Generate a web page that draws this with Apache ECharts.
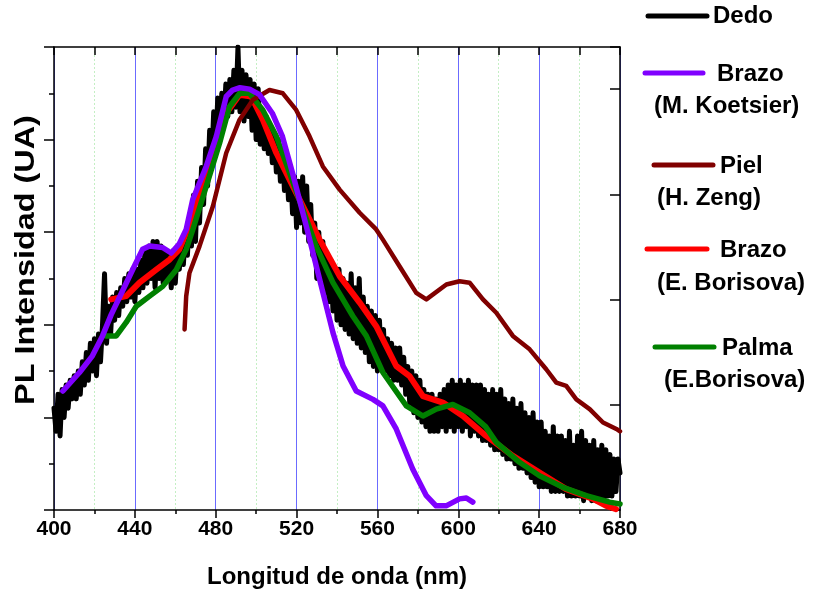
<!DOCTYPE html>
<html>
<head>
<meta charset="utf-8">
<script src="https://cdn.jsdelivr.net/npm/echarts@6/dist/echarts.min.js"></script>
<style>
html,body{margin:0;padding:0;background:#fff;}
#chart{width:813px;height:594px;}
</style>
</head>
<body>
<div id="chart"></div>
<script>
// ---------- DATA ----------
const xTicks = [400, 440, 480, 520, 560, 600, 640, 680];
const seriesNames = ['Dedo', 'Brazo (M. Koetsier)', 'Piel (H. Zeng)', 'Brazo (E. Borisova)', 'Palma (E.Borisova)'];
const xTitle = 'Longitud de onda (nm)';
const yTitle = 'PL Intensidad (UA)';

// Dedo: noisy measured spectrum, 1 nm steps from 400 nm
const dedoStart = 400;
const dedoValues = [
  22,17,25,16,26,20,27,22,28,24,
  29,24,30,25,32,27,34,28,36,30,
  37,29,38,32,40,51,36,44,38,46,
  41,47,42,48,44,50,45,51,46,52,
  45,52,47,54,48,56,49,57,50,58,
  48,58,50,57,49,56,50,55,48,56,
  49,56,52,58,53,60,55,63,57,68,
  58,71,62,74,66,78,70,82,75,86,
  78,89,80,90,83,92,85,93,86,95,
  87,100,86,95,84,94,85,93,82,92,
  80,91,79,86,78,85,77,83,75,81,
  73,80,71,78,69,76,67,74,64,72,
  61,71,62,72,60,70,58,66,55,62,
  50,60,49,58,47,55,45,54,43,52,
  41,52,40,50,39,49,38,51,37,48,
  36,50,35,46,34,44,32,43,31,42,
  30,41,31,39,30,37,29,36,28,35,
  28,35,27,33,25,31,23,30,21,29,
  20,28,19,26,18,25,17,25,17,24,
  17,25,18,26,17,27,18,28,17,27,
  18,28,17,27,18,28,16,27,17,27,
  16,27,15,26,15,25,14,26,13,25,
  13,26,12,24,11,23,11,24,10,22,
  9,23,9,21,8,20,7,21,6,19,
  5,19,5,17,5,16,4,18,4,16,
  4,16,4,15,3,17,3,14,3,16,
  3,17,2,15,3,14,2,15,2,13,
  2,14,2,13,3,12,3,11,4,11,
  8
];

const koetsier = [
  [404.4,25.7],[412.6,29.7],[419,33.3],[424,37.6],[428.3,42.2],[433,46.5],[439,52],[443.8,56.3],
  [447.3,57],[453.7,56.7],[458,55.5],[462,57.5],[465.4,60.6],[468.6,67],[475.3,74.2],[480.3,80.7],
  [485.2,89.3],[488.4,90.7],[492,91.2],[496.7,90.9],[501.7,89.7],[508,85.7],[513,80.7],[518,72.8],
  [524.8,61.3],[531.4,49.8],[538,38.3],[543,31.1],[549.5,25.7],[557.8,23.9],[562.7,22.5],[569.3,17.5],
  [577.5,8.8],[584.2,3.1],[589,0.9],[594,0.9],[600.6,2.4],[604,2.6],[607.2,1.7]
];

const zeng = [
  [464.6,39],[465.4,46.2],[467,51.2],[472,57],[478.6,65.6],[485.2,77.1],[491.8,84.3],[498.4,88.6],
  [506.6,90.7],[513.2,90],[519.8,86.4],[526.4,80.7],[533,74.2],[541.3,69.2],[551.2,64.2],[559.4,60.6],
  [562.7,58.4],[571,52.6],[579.2,46.9],[584.2,45.5],[594.1,48.7],[600.6,49.4],[605.6,49.1],[612.2,45.5],
  [618.8,42.6],[627,37.6],[635.3,34.7],[643.5,30.4],[648.5,27.5],[653.4,26.8],[658.4,23.9],[665,21.8],
  [671.6,18.9],[678.2,17.5],[680,17]
];

const borisovaBrazo = [
  [428.3,45.5],[435.7,46.2],[442.3,49.1],[450.6,51.9],[457.2,54.1],[462,56.3],[467,61.5],[473.6,71.3],
  [478.6,77.8],[485.2,85.7],[491.8,89.7],[497.6,89.3],[503.3,84.3],[510,77.1],[518.2,69.9],[524.8,64.2],
  [531.4,58.4],[541.3,50.5],[551.2,44.8],[559.4,39.7],[569.3,31.1],[575.9,28.9],[582.5,24.6],[592.4,23.2],
  [602.3,20.3],[613.8,16],[627,11.7],[640.2,8.1],[653.4,4.5],[666.6,2.4],[673.2,0.9],[678,0.2]
];

const borisovaPalma = [
  [425.8,37.6],[430.8,37.6],[435.7,40.5],[440.7,44],[447.3,46.2],[453.8,48.3],[460.5,51.9],[465.4,56.3],
  [468.7,60.6],[475.3,69.9],[481.9,79.2],[486.8,87.1],[491.8,90],[496.7,90],[503.3,86.4],[510,80.7],
  [516.5,72.8],[523.1,64.9],[529.7,57],[538,49.1],[547.8,41.9],[554.5,37.6],[562.7,29.7],[574.3,22.5],
  [582.5,20.3],[589.1,21.8],[597.3,22.8],[605.6,21],[613.5,18],[618.8,14.6],[630.3,10.3],[640.2,7.4],
  [651.8,4.9],[663.3,3.1],[674.9,1.7],[680,1.3]
];

// ---------- CHART ----------
const colors = ['#000000', '#8000ff', '#800000', '#ff0000', '#008000'];
const dedo = dedoValues.map((v, i) => [dedoStart + i, v]);

const chart = echarts.init(document.getElementById('chart'), null, {renderer: 'canvas'});
const fontFam = 'Liberation Sans, Arial, sans-serif';

function mkLine(name, data, color, width, z) {
  return {
    name: name, type: 'line', data: data, showSymbol: false, symbol: 'none',
    lineStyle: {color: color, width: width, join: 'round', cap: 'round'},
    itemStyle: {color: color}, z: z, animation: false, clip: true
  };
}

// legend drawn as graphic (multi-line entries)
const legendSpec = [
  {line: [648, 707, 16], t1: ['Dedo', 713, 16], t2: null},
  {line: [645, 703, 73], t1: ['Brazo', 717, 74], t2: ['(M. Koetsier)', 654, 106]},
  {line: [654, 713, 165], t1: ['Piel', 720, 166], t2: ['(H. Zeng)', 657, 198]},
  {line: [647, 707, 249], t1: ['Brazo', 720, 250], t2: ['(E. Borisova)', 657, 283]},
  {line: [655, 714, 347], t1: ['Palma', 722, 348], t2: ['(E.Borisova)', 664, 380]}
];
const graphics = [];
legendSpec.forEach((s, i) => {
  graphics.push({type: 'line', shape: {x1: s.line[0], y1: s.line[2], x2: s.line[1], y2: s.line[2]},
    style: {stroke: colors[i], lineWidth: 5, lineCap: 'round'}});
  graphics.push({type: 'text', x: s.t1[1], y: s.t1[2],
    style: {text: s.t1[0], font: 'bold 24px ' + fontFam, fill: '#000', verticalAlign: 'middle'}});
  if (s.t2) graphics.push({type: 'text', x: s.t2[1], y: s.t2[2],
    style: {text: s.t2[0], font: 'bold 24px ' + fontFam, fill: '#000', verticalAlign: 'middle'}});
});
// y-axis title (slightly stretched along its length like the original)
graphics.push({type: 'text', x: 27, y: 260, rotation: Math.PI / 2, scaleX: 1.2, scaleY: 1,
  style: {text: yTitle, font: 'bold 27px ' + fontFam, fill: '#000', align: 'center', verticalAlign: 'middle'}});

const option = {
  animation: false,
  backgroundColor: '#fff',
  grid: {left: 54, right: 193, top: 47, bottom: 83, containLabel: false},
  xAxis: [
    {
      type: 'value', position: 'bottom', min: xTicks[0], max: xTicks[xTicks.length - 1], interval: 40,
      axisLine: {show: true, onZero: false, lineStyle: {color: '#000', width: 1.5}},
      axisTick: {show: true, inside: false, length: 8, lineStyle: {color: '#000', width: 1.5}},
      minorTick: {show: true, splitNumber: 2, length: 4, lineStyle: {color: '#000', width: 1.5}},
      axisLabel: {show: true, color: '#000', fontWeight: 'bold', fontSize: 21, fontFamily: fontFam, margin: 9},
      splitLine: {show: true, lineStyle: {color: '#6b6bff', width: 1}},
      minorSplitLine: {show: true, lineStyle: {color: '#c4efc4', width: 1, type: [2, 2]}},
      name: xTitle, nameLocation: 'middle', nameGap: 55,
      nameTextStyle: {color: '#000', fontWeight: 'bold', fontSize: 24, fontFamily: fontFam}
    },
    {
      type: 'value', position: 'top', min: 400, max: 680, interval: 20,
      axisLine: {show: true, onZero: false, lineStyle: {color: '#000', width: 1.5}},
      axisTick: {show: true, inside: true, length: 8, lineStyle: {color: '#000', width: 1.5}},
      axisLabel: {show: false}, splitLine: {show: false}
    }
  ],
  yAxis: [
    {
      type: 'value', position: 'left', min: 0, max: 100, interval: 20,
      axisLine: {show: true, onZero: false, lineStyle: {color: '#000', width: 1.5}},
      axisTick: {show: true, inside: false, length: 10, lineStyle: {color: '#000', width: 1.5}},
      minorTick: {show: true, splitNumber: 2, length: 5, lineStyle: {color: '#000', width: 1.5}},
      axisLabel: {show: false}, splitLine: {show: false}
    },
    {
      type: 'value', position: 'right', min: 0, max: 4.4, interval: 1,
      axisLine: {show: true, onZero: false, lineStyle: {color: '#000', width: 1.5}},
      axisTick: {show: true, inside: true, length: 10, lineStyle: {color: '#000', width: 1.5}},
      axisLabel: {show: false}, splitLine: {show: false}
    }
  ],
  series: [
    mkLine(seriesNames[0], dedo, colors[0], 5, 2),
    mkLine(seriesNames[3], borisovaBrazo, colors[3], 6, 3),
    mkLine(seriesNames[4], borisovaPalma, colors[4], 5.5, 4),
    mkLine(seriesNames[2], zeng, colors[2], 4.5, 5),
    mkLine(seriesNames[1], koetsier, colors[1], 5.5, 6)
  ],
  graphic: graphics
};
chart.setOption(option);
</script>
</body>
</html>
